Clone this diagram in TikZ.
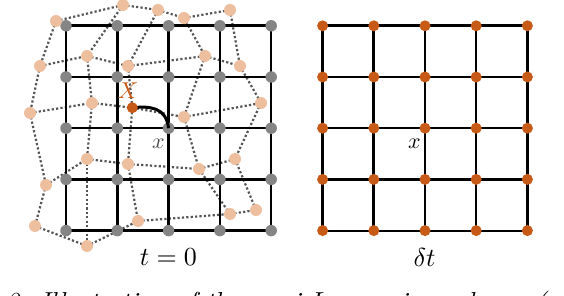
\documentclass[tikz,border=0pt]{standalone}
\usepackage{graphicx}
\definecolor{orng}{HTML}{C85A17}
\definecolor{peach}{HTML}{EDBF9F}
\definecolor{gdot}{HTML}{858585}
\definecolor{dotline}{HTML}{555555}
\begin{document}
\begin{tikzpicture}[x=1pt,y=-1pt,
  graydot/.style={circle,fill=gdot,inner sep=0pt,minimum size=11.5pt},
  peachdot/.style={circle,fill=peach,inner sep=0pt,minimum size=12pt},
  orangedot/.style={circle,fill=orng,inner sep=0pt,minimum size=11pt},
  dotl/.style={draw=dotline,line width=2.2pt,dash pattern=on 2.2pt off 2.2pt},
  lbl/.style={inner sep=0pt,font=\fontsize{10}{12}\selectfont}]
\useasboundingbox (0,0) rectangle (564,296);
\clip (0,0) rectangle (564,296);
% regular grid coordinates
\foreach \i in {0,...,4}{
  \foreach \j in {0,...,4}{
    \coordinate (L-\i-\j) at ({66+51.3*\i},{25.8+51.2*\j});
    \coordinate (R-\i-\j) at ({322.6+51.2*\i},{25.8+51.2*\j});
  }
}
% perturbed points
\foreach \pc/\pr/\px/\py in {
  0/0/56/21, 1/0/123/5, 2/0/158/10, 3/0/184/18, 4/0/230/10,
  0/1/40/66, 1/1/87/56, 2/1/128/66, 3/1/205/56, 4/1/240/66,
  0/2/30/113, 1/2/92/103, 2/2/132.3/107.7, 3/2/184/117, 4/2/261/103,
  0/3/46/185, 1/3/87/159, 2/3/128/164, 3/3/199/169, 4/3/235/159,
  0/4/35/226, 1/4/87/246, 2/4/138/221, 3/4/230/214, 4/4/256/210}{
  \coordinate (P-\pc-\pr) at (\px,\py);
}
% dotted connections
\foreach \a/\b in {0/1,1/2,2/3,3/4}{
  \foreach \k in {0,...,4}{
    \draw[dotl] (P-\a-\k) -- (P-\b-\k);
    \draw[dotl] (P-\k-\a) -- (P-\k-\b);
  }
}
% left grid lines
\foreach \i/\w in {0/2.4,1/2.4,2/3.1,3/2.6,4/2.2}{
  \draw[line width=\w pt] (L-\i-0) -- (L-\i-4);
}
\foreach \j/\w in {0/2.9,1/2.2,2/2.2,3/2.6,4/2.4}{
  \draw[line width=\w pt] (L-0-\j) -- (L-4-\j);
}
% right grid lines
\foreach \i/\w in {0/3.0,1/3.0,2/2.1,3/2.1,4/3.0}{
  \draw[line width=\w pt] (R-\i-0) -- (R-\i-4);
}
\foreach \j/\w in {0/3.0,1/2.1,2/2.1,3/3.0,4/2.1}{
  \draw[line width=\w pt] (R-0-\j) -- (R-4-\j);
}
% dots
\foreach \i in {0,...,4}{
  \foreach \j in {0,...,4}{
    \node[graydot] (Ld-\i-\j) at (L-\i-\j) {};
    \node[orangedot] (Rd-\i-\j) at (R-\i-\j) {};
  }
}
\foreach \pc/\pr in {0/0,1/0,2/0,3/0,4/0,0/1,1/1,2/1,3/1,4/1,0/2,1/2,3/2,4/2,
  0/3,1/3,2/3,3/3,4/3,0/4,1/4,2/4,3/4,4/4}{
  \node[peachdot] (Pd-\pc-\pr) at (P-\pc-\pr) {};
}
% trajectory
\draw[line width=3pt] (P-2-2) .. controls (150,106) and (166,107) .. (Ld-2-2.center);
\node[orangedot] (Xd) at (P-2-2) {};
\node[lbl,text=orng] (Xlab) at (128,90.5) {\scalebox{2.3}{$X$}};
\node[lbl,text=black!70] (xl) at (158.5,144) {\scalebox{2.2}{$x$}};
\node[lbl] (xr) at (414.5,144) {\scalebox{2.2}{$x$}};
\node[lbl] (t0) at (168.5,257.5) {\scalebox{2.6}{$t=0$}};
\node[lbl] (dt) at (424.5,257.5) {\scalebox{2.6}{$\delta t$}};
\node[lbl,anchor=base west] (cap) at (6,310) {\scalebox{2.6}{\itshape 2: Illustration of the semi-Lagrangian scheme (}};
\end{tikzpicture}
\end{document}
